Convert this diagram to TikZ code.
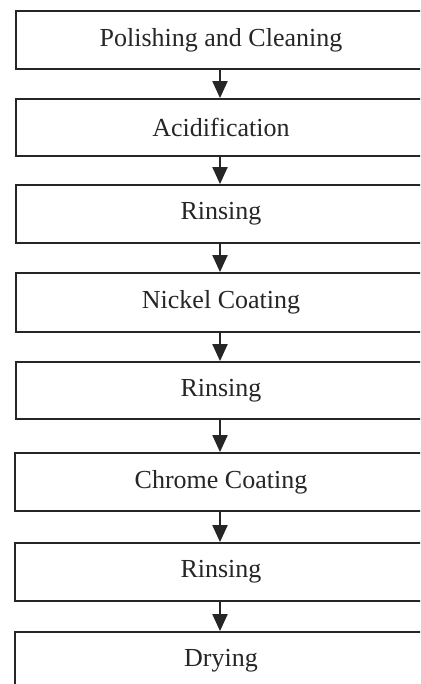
\documentclass[tikz,border=0pt]{standalone}
\usepackage{fontspec}
\setmainfont{Liberation Serif}
\usetikzlibrary{arrows.meta}
\tikzset{
  stepbox/.style={draw=black!85, line width=1.8pt, rectangle, minimum width=410pt, inner sep=0pt,
    font=\fontsize{26}{30}\selectfont, text=black!85},
  flowarrow/.style={draw=black!85, line width=2pt, -{Triangle[width=15pt,length=17pt]}}
}
\begin{document}
\begin{tikzpicture}[x=1pt,y=-1pt]
\useasboundingbox (0,0) rectangle (420,684);
\fill[white] (0,0) rectangle (420,684);
\clip (0,0) rectangle (420,684);
\node[stepbox, minimum height=58pt] (b1) at (221,40) {Polishing and Cleaning};
\node[stepbox, minimum height=57pt] (b2) at (221,127.5) {Acidification};
\node[stepbox, minimum height=58pt] (b3) at (221,214) {Rinsing};
\node[stepbox, minimum height=59pt] (b4) at (221,302.5) {Nickel Coating};
\node[stepbox, minimum height=57pt] (b5) at (221,390.5) {Rinsing};
\node[stepbox, minimum height=58pt, minimum width=412pt] (b6) at (221,482) {Chrome Coating};
\node[stepbox, minimum height=58pt, minimum width=412pt] (b7) at (221,572) {Rinsing};
\node[stepbox, minimum height=58pt, minimum width=412pt] (b8) at (221,661) {Drying};
\draw[flowarrow] (b1.south -| 220,0) -- (b2.north -| 220,0);
\draw[flowarrow] (b2.south -| 220,0) -- (b3.north -| 220,0);
\draw[flowarrow] (b3.south -| 220,0) -- (b4.north -| 220,0);
\draw[flowarrow] (b4.south -| 220,0) -- (b5.north -| 220,0);
\draw[flowarrow] (b5.south -| 220,0) -- (b6.north -| 220,0);
\draw[flowarrow] (b6.south -| 220,0) -- (b7.north -| 220,0);
\draw[flowarrow] (b7.south -| 220,0) -- (b8.north -| 220,0);
\end{tikzpicture}
\end{document}
